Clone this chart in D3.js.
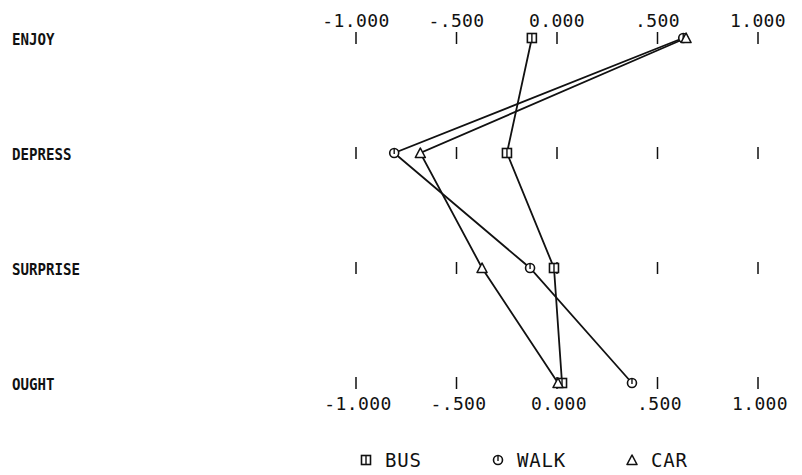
<!DOCTYPE html>
<html>
<head>
<meta charset="utf-8">
<script src="https://cdn.jsdelivr.net/npm/d3@7"></script>
<style>
  html, body { margin: 0; padding: 0; background: #fff; }
  svg { display: block; }
  text { font-family: "DejaVu Sans Mono", "Liberation Mono", monospace; fill: #111; }
</style>
</head>
<body>
<svg id="chart" width="802" height="475"></svg>
<script>
// Emotion ratings per travel mode, on a -1 .. +1 scale
const emotions = ["ENJOY", "DEPRESS", "SURPRISE", "OUGHT"];
const emotionLabels = ["ENJOY", "DEPRESS", "SURPRISE", "OUGHT"];
const bus  = [-0.125, -0.249, -0.015, 0.025];
const walk = [0.628, -0.810, -0.134, 0.373];
const car  = [0.642, -0.680, -0.373, 0.005];
const tickValues = [-1, -0.5, 0, 0.5, 1];
const tickLabels = ["-1.000", "-.500", "0.000", ".500", "1.000"];
const seriesNames = ["BUS", "WALK", "CAR"];

const series = [
  { name: seriesNames[0], values: bus,  shape: "square" },
  { name: seriesNames[1], values: walk, shape: "circle" },
  { name: seriesNames[2], values: car,  shape: "triangle" }
];

const svg = d3.select("#chart");
const ink = "#111";

const x = d3.scaleLinear().domain([-1, 1]).range([356, 758]);
const y = d3.scalePoint().domain(emotions).range([38, 383]);

// row labels
svg.append("g").selectAll("text")
  .data(emotions)
  .join("text")
  .attr("x", 12)
  .attr("y", d => y(d) + 1)
  .attr("dominant-baseline", "central")
  .attr("font-size", 16)
  .attr("font-weight", "bold")
  .attr("textLength", (d, i) => emotionLabels[i].length * 8.5)
  .attr("lengthAdjust", "spacingAndGlyphs")
  .text((d, i) => emotionLabels[i]);

// tick marks on every row
const tickLen = 12;
emotions.forEach(e => {
  svg.append("g").selectAll("line")
    .data(tickValues)
    .join("line")
    .attr("x1", d => x(d)).attr("x2", d => x(d))
    .attr("y1", y(e) - tickLen / 2).attr("y2", y(e) + tickLen / 2)
    .attr("stroke", ink).attr("stroke-width", 1.5);
});

// top and bottom tick labels
const labelStyle = sel => sel
  .attr("text-anchor", "middle")
  .attr("dominant-baseline", "central")
  .attr("font-size", 18)
  .attr("letter-spacing", 0.4);

svg.append("g").selectAll("text")
  .data(tickValues)
  .join("text")
  .attr("x", d => x(d))
  .attr("y", 20)
  .call(labelStyle)
  .text((d, i) => tickLabels[i]);

svg.append("g").selectAll("text")
  .data(tickValues)
  .join("text")
  .attr("x", d => x(d) + 2)
  .attr("y", 403)
  .call(labelStyle)
  .text((d, i) => tickLabels[i]);

// profile lines
const line = d3.line()
  .x(d => x(d.v))
  .y(d => y(d.e));

series.forEach(s => {
  svg.append("path")
    .datum(s.values.map((v, i) => ({ v, e: emotions[i] })))
    .attr("d", line)
    .attr("fill", "none")
    .attr("stroke", ink)
    .attr("stroke-width", 1.8);
});

// marker glyphs
function drawMarker(g, shape, cx, cy) {
  const r = 4.5;
  if (shape === "square") {
    g.append("rect")
      .attr("x", cx - r).attr("y", cy - r)
      .attr("width", 2 * r).attr("height", 2 * r)
      .attr("fill", "#fff").attr("stroke", ink).attr("stroke-width", 1.6);
    g.append("line")
      .attr("x1", cx).attr("x2", cx)
      .attr("y1", cy - r).attr("y2", cy + r)
      .attr("stroke", ink).attr("stroke-width", 1.4);
  } else if (shape === "circle") {
    g.append("circle")
      .attr("cx", cx).attr("cy", cy).attr("r", r)
      .attr("fill", "#fff").attr("stroke", ink).attr("stroke-width", 1.6);
    g.append("line")
      .attr("x1", cx).attr("x2", cx)
      .attr("y1", cy - r).attr("y2", cy + 1)
      .attr("stroke", ink).attr("stroke-width", 1.4);
  } else {
    const pts = [[cx, cy - r - 0.5], [cx + r + 0.5, cy + r], [cx - r - 0.5, cy + r]];
    g.append("polygon")
      .attr("points", pts.map(p => p.join(",")).join(" "))
      .attr("fill", "#fff").attr("stroke", ink).attr("stroke-width", 1.6)
      .attr("stroke-linejoin", "round");
  }
}

const markers = svg.append("g");
series.forEach(s => {
  s.values.forEach((v, i) => {
    drawMarker(markers, s.shape, x(v), y(emotions[i]));
  });
});

// legend
const legendX = [366, 498, 632];
const legend = svg.append("g");
series.forEach((s, i) => {
  drawMarker(legend, s.shape, legendX[i], 460);
  legend.append("text")
    .attr("x", legendX[i] + 19)
    .attr("y", 460)
    .attr("dominant-baseline", "central")
    .attr("font-size", 19)
    .attr("letter-spacing", 0.8)
    .text(s.name);
});
</script>
</body>
</html>
